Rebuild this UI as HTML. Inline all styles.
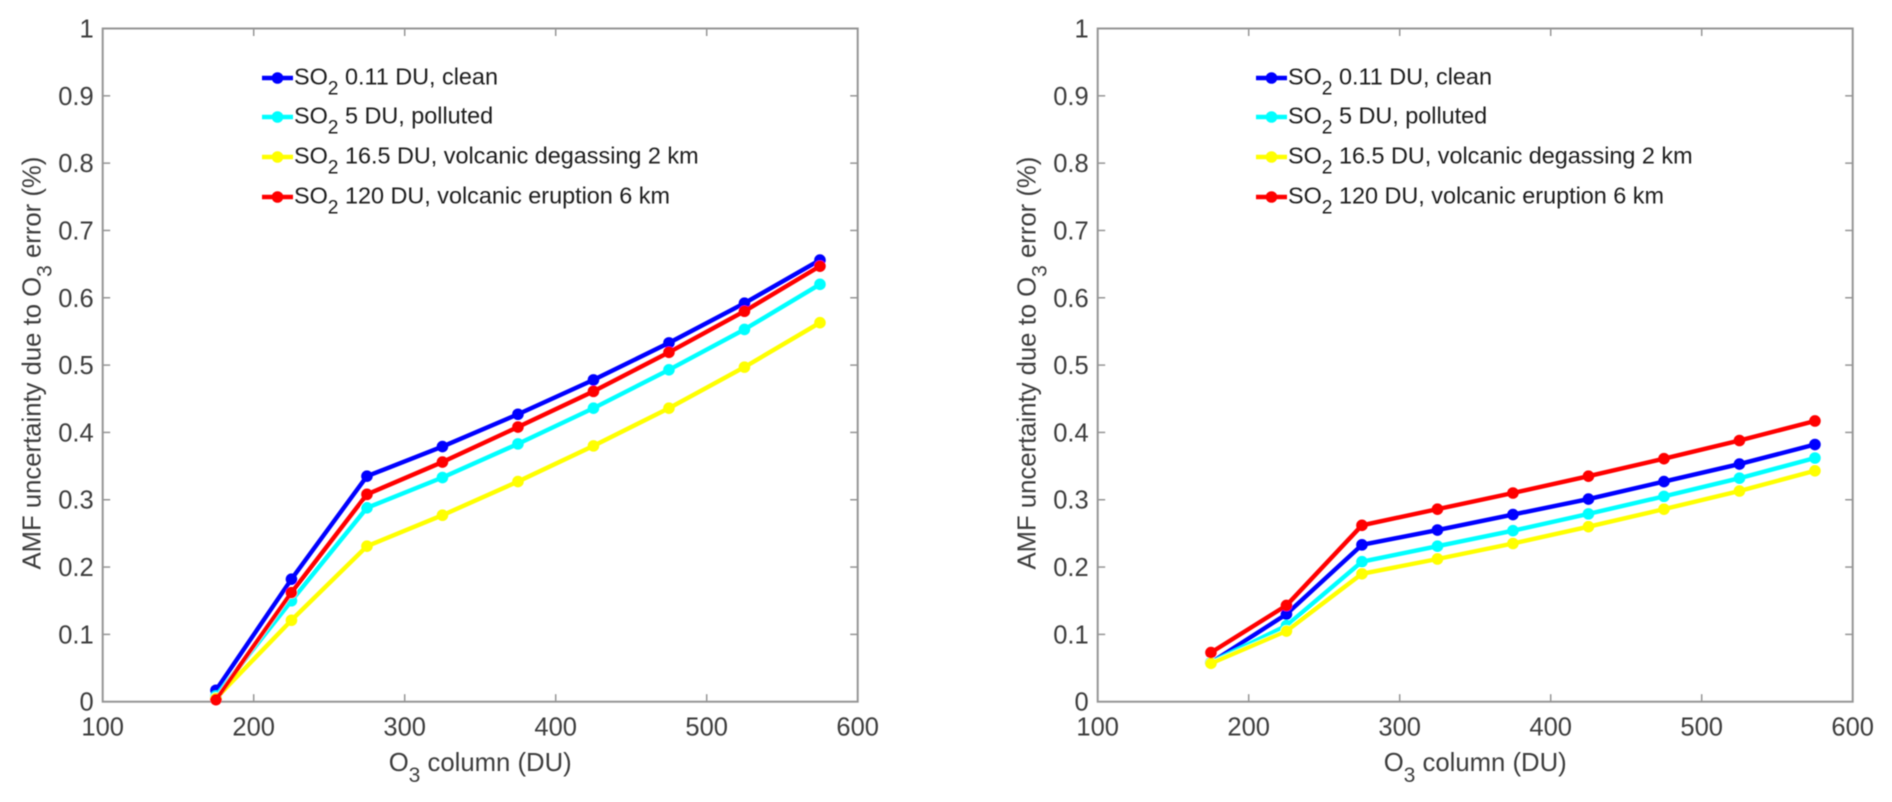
<!DOCTYPE html>
<html lang="en">
<head>
<meta charset="utf-8">
<title>AMF uncertainty due to O3 error</title>
<style>
html,body{margin:0;padding:0;background:#fff;width:1892px;height:802px;overflow:hidden}
svg{display:block;font-family:"Liberation Sans",sans-serif}
#blur-layer{filter:url(#soft)}
</style>
</head>
<body>
<svg id="figure" width="1892" height="802" viewBox="0 0 1892 802" xmlns="http://www.w3.org/2000/svg">
<defs><filter id="soft" x="0" y="0" width="100%" height="100%"><feGaussianBlur stdDeviation="0.6"/></filter></defs>
<rect width="1892" height="802" fill="#fff"/>
<g id="blur-layer"></g>
</svg>
<script>
const o3Columns = [175, 225, 275, 325, 375, 425, 475, 525, 575];
const xTickValues = [100, 200, 300, 400, 500, 600];
const yTickValues = [0, 0.1, 0.2, 0.3, 0.4, 0.5, 0.6, 0.7, 0.8, 0.9, 1];
const seriesNames = ["clean", "polluted", "degassing", "eruption"];
const seriesColors = ["#0000ff", "#00ffff", "#ffff00", "#ff0000"];
const legendLabels = [" 0.11 DU, clean", " 5 DU, polluted", " 16.5 DU, volcanic degassing 2 km", " 120 DU, volcanic eruption 6 km"];

const leftClean = [0.017, 0.182, 0.335, 0.379, 0.427, 0.478, 0.533, 0.592, 0.656];
const leftPolluted = [0.008, 0.150, 0.288, 0.333, 0.383, 0.436, 0.493, 0.553, 0.620];
const leftDegassing = [0.005, 0.121, 0.231, 0.277, 0.327, 0.380, 0.436, 0.497, 0.563];
const leftEruption = [0.003, 0.162, 0.308, 0.356, 0.408, 0.461, 0.519, 0.580, 0.647];

const rightClean = [0.058, 0.130, 0.233, 0.255, 0.278, 0.301, 0.327, 0.353, 0.382];
const rightPolluted = [0.058, 0.113, 0.208, 0.231, 0.254, 0.279, 0.305, 0.332, 0.362];
const rightDegassing = [0.057, 0.105, 0.190, 0.212, 0.235, 0.260, 0.286, 0.313, 0.343];
const rightEruption = [0.073, 0.143, 0.262, 0.286, 0.310, 0.335, 0.361, 0.388, 0.417];

const NS = "http://www.w3.org/2000/svg";
const root = document.getElementById("blur-layer");
const AXIS = "#959595", TICKTEXT = "#3c3c3c", LEGTEXT = "#1c1c1c";
const TICK_SIZE = 25.5, TITLE_SIZE = 25.7, LEGEND_SIZE = 23.4;

function make(tag, attrs, parent) {
  const el = document.createElementNS(NS, tag);
  for (const k in attrs) el.setAttribute(k, attrs[k]);
  parent.appendChild(el);
  return el;
}

function sub(parent, txt, size) {
  const s = make("tspan", {dy: size * 0.42, "font-size": size * 0.82}, parent);
  s.textContent = txt;
  const r = make("tspan", {dy: -size * 0.42}, parent);
  return r;
}

function drawPanel(id, left, right, top, bottom, series, legendX) {
  const g = make("g", {}, root);
  
  
  const xScale = v => left + (v - 100) / 500 * (right - left);
  const yScale = v => bottom - v * (bottom - top);

  const frame = make("rect", {x: left, y: top, width: right - left, height: bottom - top, fill: "none", stroke: AXIS, "stroke-width": 2}, g);
  
  

  xTickValues.forEach(v => {
    const x = xScale(v);
    if (v > 100 && v < 600) {
      const t1 = make("line", {x1: x, x2: x, y1: bottom, y2: bottom - 7.5, stroke: AXIS, "stroke-width": 1.5}, g);
      
      
      const t2 = make("line", {x1: x, x2: x, y1: top, y2: top + 7.5, stroke: AXIS, "stroke-width": 1.5}, g);
      
      
    }
    const lab = make("text", {x: x, y: bottom + 34, "font-size": TICK_SIZE, fill: TICKTEXT, "text-anchor": "middle"}, g);
    
    
    lab.textContent = v;
  });

  yTickValues.forEach(v => {
    const y = yScale(v);
    if (v > 0 && v < 1) {
      const t1 = make("line", {x1: left, x2: left + 7.5, y1: y, y2: y, stroke: AXIS, "stroke-width": 1.5}, g);
      
      
      const t2 = make("line", {x1: right, x2: right - 7.5, y1: y, y2: y, stroke: AXIS, "stroke-width": 1.5}, g);
      
      
    }
    const lab = make("text", {x: left - 9, y: y + 9, "font-size": TICK_SIZE, fill: TICKTEXT, "text-anchor": "end"}, g);
    
    
    lab.textContent = v;
  });

  const xt = make("text", {x: (left + right) / 2, y: 771, "font-size": TITLE_SIZE, fill: TICKTEXT, "text-anchor": "middle"}, g);
  
  
  make("tspan", {}, xt).textContent = "O";
  sub(xt, "3", TITLE_SIZE).textContent = " column (DU)";

  const cy = (top + bottom) / 2 - 2;
  const yt = make("text", {transform: "translate(" + (left - 62) + "," + cy + ") rotate(-90)", "font-size": TITLE_SIZE, fill: TICKTEXT, "text-anchor": "middle"}, g);
  
  
  make("tspan", {}, yt).textContent = "AMF uncertainty due to O";
  sub(yt, "3", TITLE_SIZE).textContent = " error (%)";

  series.forEach((vals, i) => {
    const pts = vals.map((v, j) => xScale(o3Columns[j]).toFixed(2) + "," + yScale(v).toFixed(2)).join(" ");
    const line = make("polyline", {points: pts, fill: "none", stroke: seriesColors[i], "stroke-width": 4.4, "stroke-linejoin": "round"}, g);
    
    
    vals.forEach((v, j) => {
      const c = make("circle", {cx: xScale(o3Columns[j]), cy: yScale(v), r: 5.8, fill: seriesColors[i]}, g);
      
      
    });
  });

  const legendYs = [77, 116, 156, 196];
  legendLabels.forEach((txt, i) => {
    const y = legendYs[i];
    const entry = make("g", {}, g);
    
    
    make("line", {x1: legendX, x2: legendX + 31, y1: y + 1, y2: y + 1, stroke: seriesColors[i], "stroke-width": 4.4}, entry);
    make("circle", {cx: legendX + 15.5, cy: y + 1, r: 5.8, fill: seriesColors[i]}, entry);
    const t = make("text", {x: legendX + 32, y: y + 7.5, "font-size": LEGEND_SIZE, fill: LEGTEXT}, entry);
    make("tspan", {}, t).textContent = "SO";
    sub(t, "2", LEGEND_SIZE).textContent = txt;
  });
}

drawPanel("left", 102.7, 857.7, 28.5, 701.7, [leftClean, leftPolluted, leftDegassing, leftEruption], 262);
drawPanel("right", 1097.7, 1852.7, 28.5, 701.7, [rightClean, rightPolluted, rightDegassing, rightEruption], 1256);
</script>
</body>
</html>
